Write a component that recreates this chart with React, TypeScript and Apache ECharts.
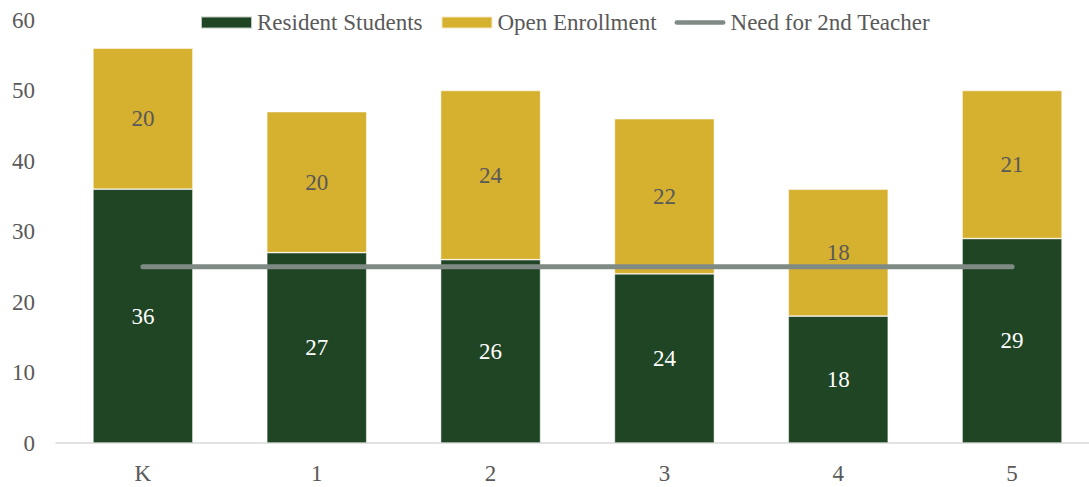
import React, { useEffect, useRef } from "react";
import * as echarts from "echarts";

const categories = ["K", "1", "2", "3", "4", "5"];
const residentStudents = [36, 27, 26, 24, 18, 29];
const openEnrollment = [20, 20, 24, 22, 18, 21];
const needFor2ndTeacher = [25, 25, 25, 25, 25, 25];

const FONT = "Liberation Serif, Times New Roman, serif";
const FS = 23;

export default function App() {
  const ref = useRef<HTMLDivElement>(null);
  useEffect(() => {
    if (!ref.current) return;
    const chart = echarts.init(ref.current, null, { renderer: "svg" });
    chart.setOption({
      animation: false,
      textStyle: { fontFamily: FONT },
      legend: {
        top: 6,
        left: 195,
        itemWidth: 51,
        itemHeight: 12,
        itemGap: 18,
        textStyle: { fontFamily: FONT, fontSize: FS, color: "#595959" },
        data: [
          { name: "Resident Students", icon: "rect" },
          { name: "Open Enrollment", icon: "rect" },
          {
            name: "Need for 2nd Teacher",
            icon: "path://M2.5,0 L53.5,0 A2.5,2.5 0 0 1 53.5,5 L2.5,5 A2.5,2.5 0 0 1 2.5,0 Z",
          },
        ],
      },
      grid: { left: 56, width: 1043, top: 20, bottom: 44, containLabel: false },
      xAxis: {
        type: "category",
        data: categories,
        axisLine: { lineStyle: { color: "#d9d9d9", width: 1.5 } },
        axisTick: { show: false },
        axisLabel: { fontFamily: FONT, fontSize: FS, color: "#595959", margin: 19 },
      },
      yAxis: {
        type: "value",
        min: 0,
        max: 60,
        interval: 10,
        splitLine: { show: false },
        axisLine: { show: false },
        axisTick: { show: false },
        axisLabel: { fontFamily: FONT, fontSize: FS, color: "#595959", margin: 21 },
      },
      series: [
        {
          name: "Resident Students",
          type: "bar",
          stack: "total",
          barWidth: 100,
          data: residentStudents,
          itemStyle: { color: "#1f4525", borderColor: "rgba(255,255,255,0.7)", borderWidth: 0.7 },
          label: { show: true, position: "inside", color: "#ffffff", fontFamily: FONT, fontSize: FS },
        },
        {
          name: "Open Enrollment",
          type: "bar",
          stack: "total",
          barWidth: 100,
          data: openEnrollment,
          itemStyle: { color: "#d6b02f", borderColor: "rgba(255,255,255,0.7)", borderWidth: 0.7 },
          label: { show: true, position: "inside", color: "#595959", fontFamily: FONT, fontSize: FS },
        },
        {
          name: "Need for 2nd Teacher",
          type: "line",
          data: needFor2ndTeacher,
          symbol: "none",
          lineStyle: { color: "#7f8a85", width: 5, cap: "round" },
          itemStyle: { color: "#7f8a85" },
          z: 5,
        },
      ],
    });
    return () => chart.dispose();
  }, []);
  return (
    <div
      style={{ position: "absolute", left: 0, top: 0, width: 1089, height: 487, overflow: "hidden", background: "#fff" }}
    >
      <div ref={ref} style={{ width: 1100, height: 487 }} />
    </div>
  );
}
